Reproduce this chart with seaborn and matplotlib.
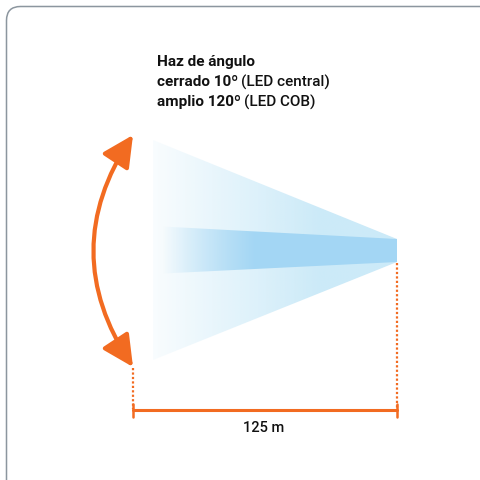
import numpy as np
import pandas as pd
import seaborn as sns
import matplotlib
matplotlib.use("Agg")
import matplotlib.pyplot as plt
from matplotlib.patches import Polygon, FancyArrowPatch, FancyBboxPatch, ArrowStyle

# ---- data ----
distance_m = [125]
beam_angles = [10, 120]
beam_labels = ["LED central", "LED COB"]
beam_kinds = ["cerrado", "amplio"]
title_line = "Haz de ángulo"

sns.set_theme(style="white")
FAM = ["Roboto", "DejaVu Sans"]
plt.rcParams["font.family"] = FAM

ORANGE = "#f26b21"
W = H = 481
fig = plt.figure(figsize=(4.81, 4.81), dpi=100)
ax = fig.add_axes([0, 0, 1, 1])
ax.set_xlim(0, W)
ax.set_ylim(H, 0)
ax.axis("off")

# frame
frame = FancyBboxPatch((6.5, 7.5), 520, 520, boxstyle="round,pad=0,rounding_size=14",
                       fc="white", ec="#8c969f", lw=1.1, zorder=0)
ax.add_patch(frame)

# geometry (pixel space)
x0, x1 = 153, 397
tip_top, tip_bot = 240, 263
wide_top, wide_bot = 141, 361
narrow_top, narrow_bot = 227, 275

def gradient_fill(poly_pts, rgb, a0, a1, xfull, z):
    poly = Polygon(poly_pts, closed=True, fc="none", ec="none")
    ax.add_patch(poly)
    xs = np.linspace(x0, x1, 300)
    alpha = np.clip(a0 + (a1 - a0) * (xs - x0) / (xfull - x0), 0, a1)
    img = np.zeros((2, len(xs), 4))
    img[..., :3] = rgb
    img[..., 3] = alpha
    im = ax.imshow(img, extent=(x0, x1, wide_bot, wide_top), aspect="auto",
                   interpolation="bilinear", zorder=z)
    im.set_clip_path(poly)

gradient_fill([(x0, wide_top), (x1, tip_top), (x1, tip_bot), (x0, wide_bot)],
              (0.80, 0.92, 0.975), 0.12, 1.0, 320, 1)
gradient_fill([(x0, narrow_top), (x1, tip_top), (x1, tip_bot), (x0, narrow_bot)],
              (0.64, 0.84, 0.96), -0.1, 1.0, 255, 2)

# curved double arrow
arr = FancyArrowPatch((133, 136), (133, 368),
                      connectionstyle="arc3,rad=0.33",
                      arrowstyle=ArrowStyle("<|-|>", head_length=1.9, head_width=0.95),
                      mutation_scale=10, color=ORANGE, lw=3, shrinkA=0, shrinkB=0, zorder=3)
ax.add_patch(arr)

# dotted guides
ax.plot([133, 133], [369, 410], color=ORANGE, lw=1.6, ls=(0, (1, 1)), zorder=3)
ax.plot([397, 397], [264, 410], color=ORANGE, lw=1.6, ls=(0, (1, 1)), zorder=3)

# measurement line
meas = pd.DataFrame({"x": [133, 397], "y": [411, 411]})
sns.lineplot(data=meas, x="x", y="y", ax=ax, color=ORANGE, lw=2.2, zorder=4)
for xe in (133, 397):
    ax.plot([xe, xe], [405, 418], color=ORANGE, lw=1.8, zorder=4)
ax.set_xlim(0, W)
ax.set_ylim(H, 0)
ax.axis("off")

ax.text(264, 428, f"{distance_m[0]} m", ha="center", va="center", fontsize=10.5,
        fontweight="medium", color="#111111", family=FAM)

# title texts
fs = 11
tx, ys = 157, [62, 82, 102]
ax.text(tx, ys[0], title_line, fontsize=fs, fontweight="bold", va="center", color="#111111", family=FAM)
fig.canvas.draw()
r = fig.canvas.get_renderer()
inv = ax.transData.inverted()
for i, (k, a, lab) in enumerate(zip(beam_kinds, beam_angles, beam_labels)):
    t = ax.text(tx, ys[i + 1], f"{k} {a}º", fontsize=fs, fontweight="bold",
                va="center", color="#111111", family=FAM)
    bb = t.get_window_extent(renderer=r)
    xe = inv.transform((bb.x1, bb.y0))[0]
    ax.text(xe + 3, ys[i + 1], f"({lab})", fontsize=fs, va="center",
            fontweight="medium", color="#111111", family=FAM)

fig.savefig("out.png", dpi=100)
